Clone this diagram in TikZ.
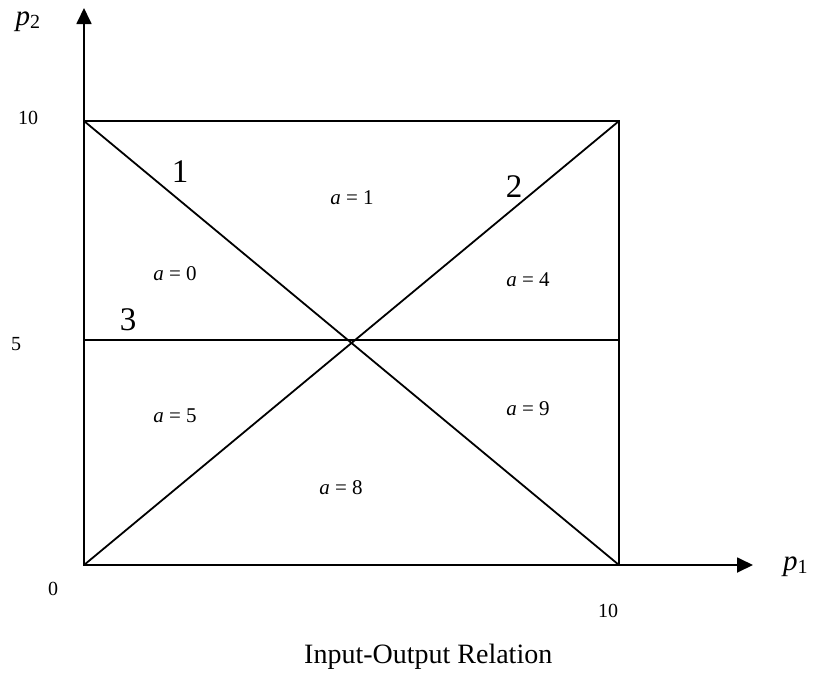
\documentclass[tikz,border=0pt]{standalone}
\usepackage{fontspec}
\setmainfont{Liberation Serif}
\usetikzlibrary{arrows.meta}
\begin{document}
\begin{tikzpicture}[x=1pt,y=-1pt,
  edge/.style={line width=1.8pt},
  axis/.style={line width=1.8pt,-{Triangle[width=15pt,length=16pt]}},
  lbl/.style={inner sep=0pt,font=\fontsize{21}{25}\selectfont},
  tick/.style={inner sep=0pt,font=\fontsize{20}{23}\selectfont},
  big/.style={inner sep=0pt,font=\fontsize{33}{37}\selectfont},
  axlbl/.style={inner sep=0pt,font=\fontsize{29}{33}\selectfont},
  ttl/.style={inner sep=0pt,font=\fontsize{28}{32}\selectfont}]
\useasboundingbox (0,0) rectangle (814,673);
\coordinate (O) at (84,565);
\coordinate (TL) at (84,121);
\coordinate (TR) at (619,121);
\coordinate (BR) at (619,565);
\coordinate (ML) at (84,340);
\coordinate (MR) at (619,340);
\coordinate (Ytip) at (84,8);
\coordinate (Xtip) at (753,565);
\draw[edge] (TL) -- (TR) -- (BR) -- (O) -- cycle;
\draw[edge] (TL) -- (BR);
\draw[edge] (O) -- (TR);
\draw[edge] (ML) -- (MR);
\draw[axis] (TL) -- (Ytip);
\draw[axis] (BR) -- (Xtip);
% axis labels
\node[axlbl] (p2) at (28,22) {\itshape p\raisebox{-3pt}{\upshape\fontsize{20}{20}\selectfont 2}};
\node[axlbl,anchor=west] (p1) at (783,567) {\itshape p\raisebox{-3pt}{\upshape\fontsize{20}{20}\selectfont 1}};
% tick labels
\node[tick] (t10y) at (28,118) {10};
\node[tick] (t5) at (16,344) {5};
\node[tick] (t0) at (53,589) {0};
\node[tick] (t10x) at (608,611) {10};
% line numbers
\node[big] (n1) at (180,172) {1};
\node[big] (n2) at (514,187) {2};
\node[big] (n3) at (128,320) {3};
% region labels
\node[lbl] (a1) at (352,198) {\textit{a} = 1};
\node[lbl] (a0) at (175,274) {\textit{a} = 0};
\node[lbl] (a4) at (528,280) {\textit{a} = 4};
\node[lbl] (a5) at (175,416) {\textit{a} = 5};
\node[lbl] (a9) at (528,409) {\textit{a} = 9};
\node[lbl] (a8) at (341,488) {\textit{a} = 8};
% title
\node[ttl,anchor=base west] (title) at (304,663) {Input-Output Relation};
\end{tikzpicture}
\end{document}
